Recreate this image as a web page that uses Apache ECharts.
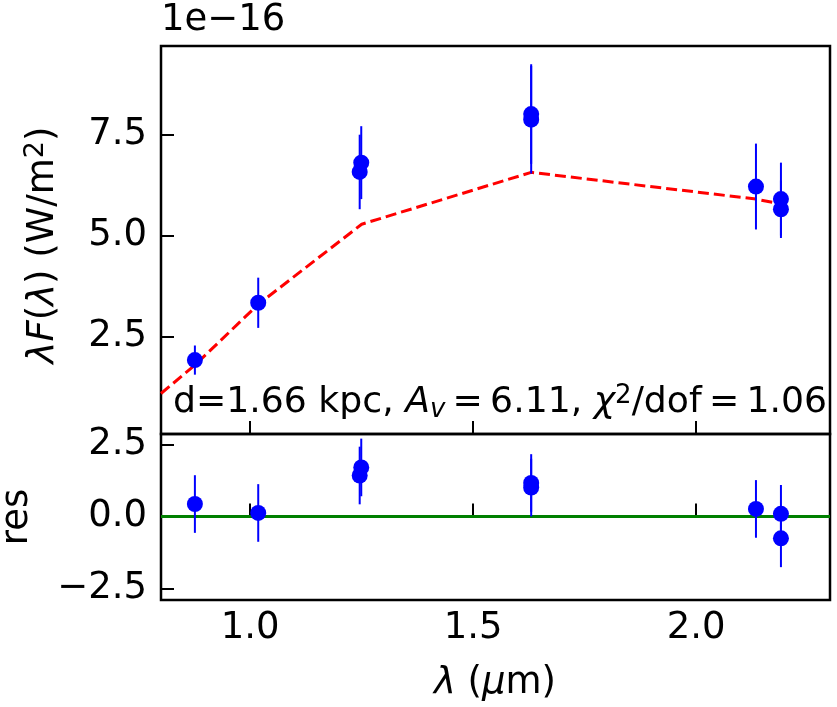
<!DOCTYPE html>
<html>
<head>
<meta charset="utf-8">
<script src="https://cdn.jsdelivr.net/npm/echarts@6/dist/echarts.min.js"></script>
<style>
html,body{margin:0;padding:0;background:#fff;}
#main{width:837px;height:707px;}
</style>
</head>
<body>
<div id="main"></div>
<script>
// photometry, flux in units of 1e-16 W/m^2
var wave = [0.876, 1.018, 1.249, 1.2455, 1.63, 1.63, 2.134, 2.19, 2.19];
var flux = [1.925, 3.34, 6.80, 6.57, 8.00, 7.86, 6.21, 5.90, 5.65];
var fluxErr = [0.36, 0.62, 0.90, 0.92, 1.23, 1.33, 1.06, 0.90, 0.71];
var res = [0.43, 0.12, 1.70, 1.42, 1.16, 1.00, 0.26, 0.09, -0.76];
var resErr = [1, 1, 1, 1, 1, 1, 1, 1, 1];
// model sed
var modelWave = [0.8, 0.876, 1.018, 1.25, 1.63, 2.134, 2.19];
var modelFlux = [1.10, 1.80, 3.30, 5.28, 6.56, 5.90, 5.78];
// ticks
var xTicks = [1.0, 1.5, 2.0];
var fluxTicks = [2.5, 5.0, 7.5];
var resTicks = [-2.5, 0.0, 2.5];

var FONT = 'DejaVu Sans';
var FS = 37;

function fmt(v){
    return v.toFixed(1).replace('-', '\u2212');
}
function pairs(xs, ys){
    var out = [];
    for(var i=0;i<xs.length;i++){ out.push([xs[i], ys[i]]); }
    return out;
}
function bars(xs, ys, es){
    var out = [];
    for(var i=0;i<xs.length;i++){ out.push([xs[i], ys[i]-es[i], ys[i]+es[i]]); }
    return out;
}
function errRender(params, api){
    var a = api.coord([api.value(0), api.value(1)]);
    var b = api.coord([api.value(0), api.value(2)]);
    return {type:'line', shape:{x1:a[0], y1:a[1], x2:b[0], y2:b[1]},
        style:{stroke:'#0000ff', lineWidth:2}};
}

function xAxisCfg(idx, showLabels){
    return {
        type:'value', gridIndex:idx, min:0.8, max:2.3,
        axisLine:{show:false},
        splitLine:{show:false},
        axisTick:{show:true, inside:true, length:13, customValues:xTicks, lineStyle:{color:'#000', width:2}},
        axisLabel:{show:showLabels, customValues:xTicks, formatter:fmt, margin:10,
            fontFamily:FONT, fontSize:FS, color:'#000'}
    };
}
function yAxisCfg(idx, min, max, ticks){
    return {
        type:'value', gridIndex:idx, min:min, max:max,
        axisLine:{show:false},
        splitLine:{show:false},
        axisTick:{show:true, inside:true, length:13, customValues:ticks, lineStyle:{color:'#000', width:2}},
        axisLabel:{customValues:ticks, formatter:fmt, margin:14,
            fontFamily:FONT, fontSize:FS, color:'#000'}
    };
}

var chart = echarts.init(document.getElementById('main'));
var option = {
    animation:false,
    backgroundColor:'#fff',
    grid:[
        {left:161, top:46, width:669, height:388, show:true, borderColor:'#000', borderWidth:2.5, backgroundColor:'transparent'},
        {left:161, top:434, width:669, height:166, show:true, borderColor:'#000', borderWidth:2.5, backgroundColor:'transparent'}
    ],
    xAxis:[xAxisCfg(0, false), xAxisCfg(1, true)],
    yAxis:[yAxisCfg(0, 0.1, 9.68, fluxTicks), yAxisCfg(1, -2.9, 2.86, resTicks)],
    series:[
        {type:'line', xAxisIndex:0, yAxisIndex:0, data:pairs(modelWave, modelFlux),
            symbol:'none', lineStyle:{color:'#ff0000', width:3, type:[11,5]}, z:2},
        {type:'custom', xAxisIndex:0, yAxisIndex:0, data:bars(wave, flux, fluxErr),
            renderItem:errRender, encode:{x:0, y:[1,2]}, z:3},
        {type:'scatter', xAxisIndex:0, yAxisIndex:0, data:pairs(wave, flux),
            symbol:'circle', symbolSize:16, itemStyle:{color:'#0000ff', opacity:1}, z:4},
        {type:'line', xAxisIndex:1, yAxisIndex:1, data:[[0.8,0],[2.3,0]],
            symbol:'none', lineStyle:{color:'#008000', width:3}, z:2},
        {type:'custom', xAxisIndex:1, yAxisIndex:1, data:bars(wave, res, resErr),
            renderItem:errRender, encode:{x:0, y:[1,2]}, z:3},
        {type:'scatter', xAxisIndex:1, yAxisIndex:1, data:pairs(wave, res),
            symbol:'circle', symbolSize:16, itemStyle:{color:'#0000ff', opacity:1}, z:4}
    ],
    graphic:[
        {type:'text', left:161, top:2, style:{text:'1e\u221216', fontFamily:FONT, fontSize:FS, fill:'#000'}},
        {type:'text', x:43, y:245, rotation:Math.PI/2,
            style:{text:'{i|\u03bbF}({i|\u03bb}) (W/m{sup|2})', align:'center', verticalAlign:'middle',
                fontFamily:FONT, fontSize:FS, fill:'#000',
                rich:{i:{fontStyle:'italic', fontFamily:FONT, fontSize:FS},
                      sup:{fontFamily:FONT, fontSize:27, padding:[0,0,14,0]}}}},
        {type:'text', x:17, y:517, rotation:Math.PI/2,
            style:{text:'res', align:'center', verticalAlign:'middle', fontFamily:FONT, fontSize:FS, fill:'#000'}},
        {type:'text', x:495, y:683,
            style:{text:'{i|\u03bb} ({i|\u03bc}m)', align:'center', verticalAlign:'middle',
                fontFamily:FONT, fontSize:FS, fill:'#000',
                rich:{i:{fontStyle:'italic', fontFamily:FONT, fontSize:FS}}}},
        {type:'text', x:173, y:403,
            style:{text:'d=1.66 kpc, {i|A}{sub|v}\u2009=\u20096.11, {i|\u03c7}{sup|2}/dof\u2009=\u20091.06', align:'left', verticalAlign:'middle',
                fontFamily:FONT, fontSize:36.2, fill:'#000',
                rich:{i:{fontStyle:'italic', fontFamily:FONT, fontSize:36.2},
                      sub:{fontStyle:'italic', fontFamily:FONT, fontSize:26, padding:[14,0,0,0]},
                      sup:{fontFamily:FONT, fontSize:26, padding:[0,0,14,0]}}}}
    ]
};
chart.setOption(option);
</script>
</body>
</html>
